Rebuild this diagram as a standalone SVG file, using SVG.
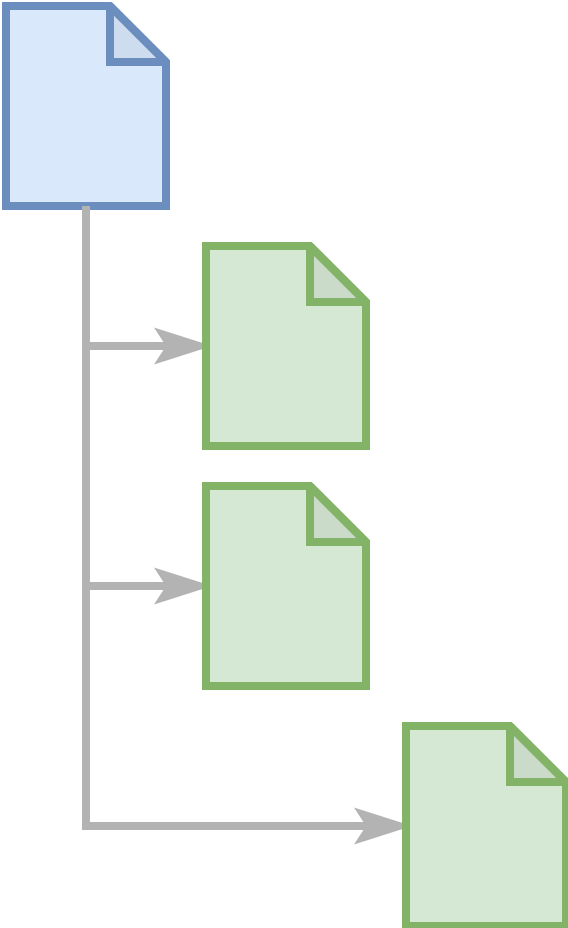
<svg xmlns="http://www.w3.org/2000/svg" width="568" height="928" viewBox="0 0 568 928">
<style>
.blue{fill:#dae8fc;stroke:#6c8ebf;stroke-width:8;stroke-miterlimit:2}
.green{fill:#d5e8d4;stroke:#82b366;stroke-width:8;stroke-miterlimit:2}
.foldb{fill:#000;fill-opacity:.05;stroke:#6c8ebf;stroke-width:8;stroke-miterlimit:2}
.foldg{fill:#000;fill-opacity:.05;stroke:#82b366;stroke-width:8;stroke-miterlimit:2}
.line{fill:none;stroke:#b3b3b3;stroke-width:8;stroke-miterlimit:10}
.head{fill:#b3b3b3;stroke:none}
</style>
<g id="doc-source"><path class="blue" d="M6 6H110L166 62V206H6Z"/><path class="foldb" d="M110 6V62H166Z"/></g>
<g id="connectors">
<path class="line" d="M86 206V346H170"/>
<path class="head" d="M212 346L154 327.500L166 346L154 364.500Z"/>
<path class="line" d="M86 206V586H170"/>
<path class="head" d="M212 586L154 567.500L166 586L154 604.500Z"/>
<path class="line" d="M86 206V826H370"/>
<path class="head" d="M412 826L354 807.500L366 826L354 844.500Z"/>
</g>
<g id="doc-1"><path class="green" d="M206 246H310L366 302V446H206Z"/><path class="foldg" d="M310 246V302H366Z"/></g>
<g id="doc-2"><path class="green" d="M206 486H310L366 542V686H206Z"/><path class="foldg" d="M310 486V542H366Z"/></g>
<g id="doc-3"><path class="green" d="M406 726H510L566 782V926H406Z"/><path class="foldg" d="M510 726V782H566Z"/></g>
</svg>
